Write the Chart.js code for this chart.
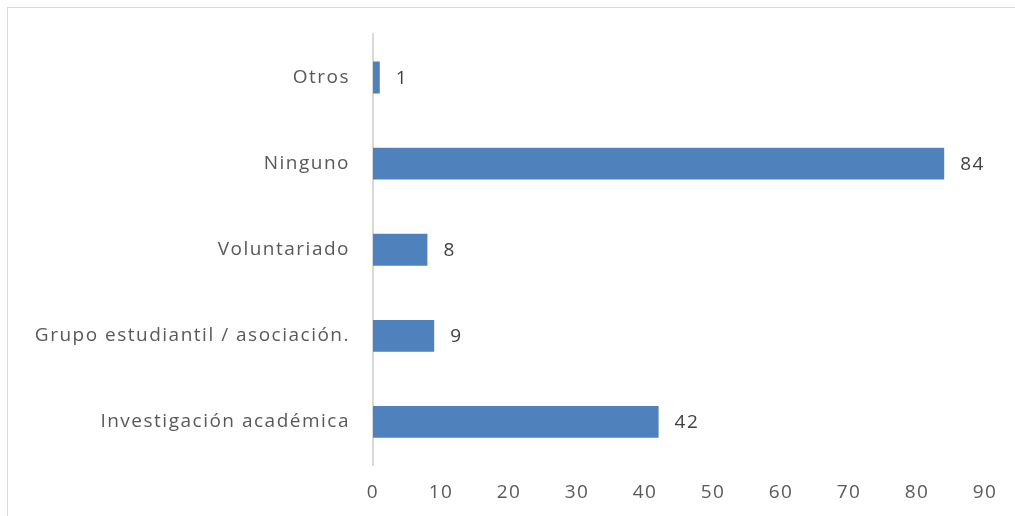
<!DOCTYPE html>
<html>
<head>
<meta charset="utf-8">
<script src="https://cdn.jsdelivr.net/npm/chart.js@4/dist/chart.umd.min.js"></script>
<style>
    html, body { margin: 0; padding: 0; background: #fff; overflow: hidden; }
    #wrap { position: relative; width: 1015px; height: 516px; }
    #frame { position: absolute; left: 7px; top: 7px; width: 1020px; height: 520px; border: 1px solid #d9d9d9; box-sizing: border-box; }
    canvas { position: absolute; left: 0; top: 0; }
</style>
</head>
<body>
<div id="wrap">
    <div id="frame"></div>
    <canvas id="chart" width="1015" height="516"></canvas>
</div>
<script>
// Categories top to bottom, as in the picture
const categories = ['Otros', 'Ninguno', 'Voluntariado', 'Grupo estudiantil / asociación.', 'Investigación académica'];
const counts = [1, 84, 8, 9, 42];
const xTicks = [0, 10, 20, 30, 40, 50, 60, 70, 80, 90];

const FONT = { family: '"Open Sans", sans-serif', size: 19 };
const SPACING = '1.5px';

// The original text is wide and airy, so loosen the letters a bit
const spacing = {
    id: 'spacing',
    beforeDraw(chart) { chart.ctx.letterSpacing = SPACING; }
};

// Value labels drawn to the right of each bar
const valueLabels = {
    id: 'valueLabels',
    afterDatasetsDraw(chart) {
        const ctx = chart.ctx;
        const meta = chart.getDatasetMeta(0);
        ctx.save();
        ctx.font = `${FONT.size}px ${FONT.family}`;
        ctx.letterSpacing = SPACING;
        ctx.fillStyle = '#404040';
        ctx.textAlign = 'left';
        ctx.textBaseline = 'middle';
        meta.data.forEach((bar, i) => {
            ctx.fillText(String(counts[i]), bar.x + 16, bar.y + 1);
        });
        ctx.restore();
    }
};

const ctx = document.getElementById('chart').getContext('2d');
new Chart(ctx, {
    type: 'bar',
    data: {
        labels: categories,
        datasets: [{
            data: counts,
            backgroundColor: '#4f81bd',
            borderWidth: 0,
            barPercentage: 0.37,
            categoryPercentage: 1
        }]
    },
    options: {
        indexAxis: 'y',
        responsive: false,
        animation: false,
        layout: { padding: { top: 33, right: 30, left: 0, bottom: 0 } },
        plugins: {
            legend: { display: false },
            tooltip: { enabled: false }
        },
        scales: {
            x: {
                min: 0,
                max: 90,
                afterBuildTicks: axis => { axis.ticks = xTicks.map(v => ({ value: v })); },
                afterFit: axis => { axis.height = 51; },
                grid: { display: false, drawTicks: false },
                border: { display: false },
                ticks: { color: '#595959', font: FONT, padding: 16, maxRotation: 0 }
            },
            y: {
                afterFit: axis => { axis.width = 373; },
                grid: { display: false, drawTicks: false },
                border: { display: true, color: '#d9d9d9', width: 2 },
                ticks: { color: '#595959', font: FONT, padding: 23 }
            }
        }
    },
    plugins: [spacing, valueLabels]
});
</script>
</body>
</html>
